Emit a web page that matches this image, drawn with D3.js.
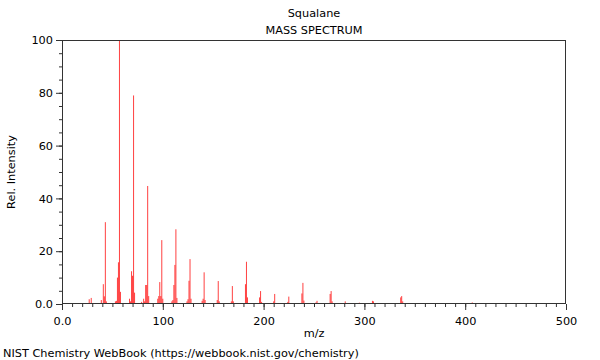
<!DOCTYPE html>
<html><head><meta charset="utf-8">
<script src="https://cdn.jsdelivr.net/npm/d3@7"></script>
<style>body{margin:0;background:#fff}svg{display:block}text{font-family:"DejaVu Sans",sans-serif;fill:#000}</style>
</head><body><svg id="c" width="600" height="360"></svg>
<script>
const title = "Squalane";
const subtitle = "MASS SPECTRUM";
const xLabel = "m/z";
const yLabel = "Rel. Intensity";
const footer = "NIST Chemistry WebBook (https://webbook.nist.gov/chemistry)";
const xTicks = [0, 100, 200, 300, 400, 500];
const xTickLabels = ["0.0", "100", "200", "300", "400", "500"];
const yTicks = [0, 20, 40, 60, 80, 100];
const yTickLabels = ["0.0", "20", "40", "60", "80", "100"];
const mz = [27, 29, 39, 41, 42, 43, 44, 53, 54, 55, 56, 57, 58, 67, 68, 69, 70, 71, 72,
  79, 81, 82, 83, 84, 85, 86, 95, 96, 97, 98, 99, 100, 109, 110, 111, 112, 113, 114,
  124, 125, 126, 127, 128, 139, 140, 141, 142, 154, 155, 156, 168, 169, 170, 182, 183, 184,
  196, 197, 198, 210, 211, 224, 225, 238, 239, 240, 252, 253, 266, 267, 268, 281, 295,
  308, 309, 336, 337, 338, 392, 407];
const intensity = [1.8, 2.3, 1.5, 7.5, 2.9, 31, 1.0, 1.0, 1.2, 10, 15.8, 100, 4.6, 2.0, 1.0, 12.4, 10.7, 79, 4.3,
  0.8, 2.0, 1.0, 7.2, 7.2, 44.7, 3.0, 2.0, 3.0, 8.3, 3.0, 24.2, 2.0, 1.0, 1.5, 7.2, 14.8, 28.3, 2.3,
  1.0, 1.8, 8.8, 17, 2.0, 1.2, 2.0, 12, 1.5, 1.5, 8.7, 1.0, 1.0, 6.8, 1.0, 7.5, 16, 2.5,
  2.5, 4.9, 0.8, 1.0, 3.8, 0.8, 2.8, 4.0, 8.0, 1.3, 0.6, 1.2, 3.8, 4.9, 1.0, 1.0, 0.5,
  1.2, 1.0, 2.5, 3.0, 1.0, 0.3, 0.6];

const FS = 11.3;
const svg = d3.select("#c");
const m = {l: 62, r: 566, t: 40, b: 304};
const x = d3.scaleLinear().domain([0, 500]).range([m.l, m.r]);
const y = d3.scaleLinear().domain([0, 100]).range([m.b, m.t]);

// peaks
svg.append("g").selectAll("line").data(mz.map((d, i) => ({m: d, v: intensity[i]})))
  .enter().append("line")
  .attr("x1", d => x(d.m)).attr("x2", d => x(d.m))
  .attr("y1", y(0)).attr("y2", d => y(d.v))
  .attr("stroke", "#ff0000").attr("stroke-opacity", 0.75).attr("stroke-width", 1);

// x axis minor + major
const xa = svg.append("g").attr("transform", `translate(0,${m.b})`);
xa.call(d3.axisBottom(x).tickValues(d3.range(0, 501, 10)).tickSize(3).tickFormat(""));
xa.append("g").call(d3.axisBottom(x).tickValues(xTicks).tickSize(6).tickFormat((d, i) => xTickLabels[i]));
xa.selectAll(".domain").remove();
const ya = svg.append("g").attr("transform", `translate(${m.l},0)`);
ya.call(d3.axisLeft(y).tickValues(d3.range(0, 101, 5)).tickSize(3).tickFormat(""));
ya.append("g").call(d3.axisLeft(y).tickValues(yTicks).tickSize(6).tickFormat((d, i) => yTickLabels[i]));
ya.selectAll(".domain").remove();
svg.selectAll(".tick line").attr("stroke", "#333");
svg.selectAll(".tick text").attr("font-size", FS).attr("font-family", "DejaVu Sans").attr("fill", "#000");
xa.selectAll(".tick text").attr("dy", "1.05em");

// frame
svg.append("rect").attr("x", m.l + 0.5).attr("y", m.t + 0.5)
  .attr("width", m.r - m.l - 1).attr("height", m.b - m.t - 1)
  .attr("fill", "none").attr("stroke", "#333").attr("stroke-width", 1);

svg.append("text").attr("x", 314).attr("y", 17).attr("text-anchor", "middle").attr("font-size", FS).text(title);
svg.append("text").attr("x", 314).attr("y", 34).attr("text-anchor", "middle").attr("font-size", FS).text(subtitle);
svg.append("text").attr("x", 314).attr("y", 337).attr("text-anchor", "middle").attr("font-size", FS).text(xLabel);
svg.append("text").attr("transform", "translate(15,172) rotate(-90)").attr("text-anchor", "middle").attr("font-size", FS).text(yLabel);
svg.append("text").attr("x", 3).attr("y", 357).attr("font-size", FS).text(footer);
</script></body></html>
